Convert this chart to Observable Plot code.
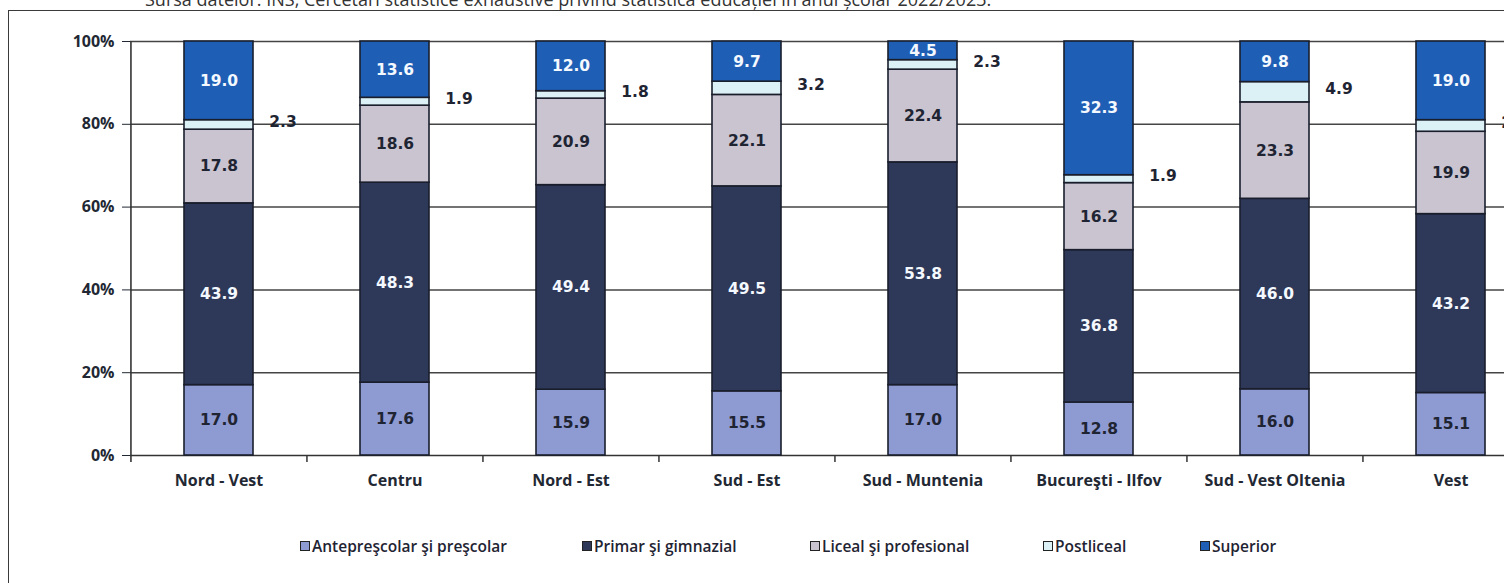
<!DOCTYPE html>
<html>
<head>
<meta charset="utf-8">
<script src="https://cdn.jsdelivr.net/npm/d3@7"></script>
<script src="https://cdn.jsdelivr.net/npm/@observablehq/plot@0.6"></script>
<style>
html,body{margin:0;padding:0;background:#fff;overflow:hidden;width:1504px;height:583px;}
#wrap{position:relative;width:1504px;height:583px;overflow:hidden;background:#fff;}
#frame{position:absolute;left:8px;top:10px;width:1700px;height:700px;border-left:1.5px solid #3a3a3a;border-top:1.5px solid #3a3a3a;}
#source{position:absolute;left:145px;top:-12px;font:18px "Open Sans";line-height:22px;color:#333;white-space:nowrap;}
#chart{position:absolute;left:0;top:0;}
#chart svg{max-width:none !important;}
#legend{position:absolute;top:536px;left:0;width:1504px;height:22px;font:600 15.5px "Open Sans";color:#1f2433;}
.item{position:absolute;top:0;display:flex;align-items:center;white-space:nowrap;line-height:20px;}
.sw{width:8px;height:8px;border:1.5px solid #222;margin-right:2px;}
</style>
</head>
<body>
<div id="wrap">
  <div id="frame"></div>
  <div id="source">Sursa datelor: INS, Cercetări statistice exhaustive privind statistica educației în anul școlar 2022/2023.</div>
  <div id="chart"></div>
  <div id="legend"></div>
</div>
<script>
const regions = ["Nord - Vest","Centru","Nord - Est","Sud - Est","Sud - Muntenia","Bucureşti - Ilfov","Sud - Vest Oltenia","Vest"];
const levels = ["Antepreşcolar şi preşcolar","Primar şi gimnazial","Liceal şi profesional","Postliceal","Superior"];
const anteprescolar = [17.0,17.6,15.9,15.5,17.0,12.8,16.0,15.1];
const primar       = [43.9,48.3,49.4,49.5,53.8,36.8,46.0,43.2];
const liceal       = [17.8,18.6,20.9,22.1,22.4,16.2,23.3,19.9];
const postliceal   = [2.3,1.9,1.8,3.2,2.3,1.9,4.9,2.8];
const superior     = [19.0,13.6,12.0,9.7,4.5,32.3,9.8,19.0];
const yTicks = [0,20,40,60,80,100];
const colors = ["#8e9ad2","#2e3858","#c9c4d0","#dcf1f5","#1e5fb5"];
const legendX = [300,582,810,1043,1200];

const series = [anteprescolar, primar, liceal, postliceal, superior];
const rows = regions.flatMap((r,i) => levels.map((l,j) => ({region:r, level:l, value:series[j][i]})));

const W = 1600, H = 512, ML = 130, MR = 61, MT = 41, MB = 57;
const step = (W - ML - MR) / regions.length;
const stackOpts = {x:"region", y:"value", z:"level", order: levels};
const darkLab = [levels[0], levels[2]];
const lightLab = [levels[1], levels[4]];
const labFont = {fontFamily:"DejaVu Sans", fontWeight:"bold", fontSize:15.5};

const chart = Plot.plot({
  width: W, height: H,
  marginLeft: ML, marginRight: MR, marginTop: MT, marginBottom: MB,
  style: {background:"transparent", maxWidth:"none", fontFamily:"Open Sans", fontSize:"16px", fontWeight:"bold", color:"#222833", overflow:"visible"},
  x: {domain: regions, paddingInner: 0.61, paddingOuter: 0.305, label: null, tickSize: 0, tickPadding: 19},
  y: {domain: [0,100], ticks: yTicks, tickFormat: d => d + "%", tickSize: 8, tickPadding: 8, label: null},
  color: {domain: levels, range: colors},
  marks: [
    Plot.ruleY(yTicks.slice(1), {stroke:"#444", strokeWidth:1.5}),
    Plot.ruleY([0], {stroke:"#333", strokeWidth:1.6}),
    Plot.ruleX(regions.slice(1), {x: d => d, dx: -step/2, y1: 0, y2: 0, insetBottom: -7, stroke:"#333", strokeWidth:1.5}),
    Plot.ruleX(regions.slice(0,1), {x: d => d, dx: -step/2, y1: 100, y2: 0, insetBottom: -7, stroke:"#333", strokeWidth:1.6}),
    Plot.barY(rows, Plot.stackY({...stackOpts, fill:"level", stroke:"#1a1e2c", strokeWidth:1.6})),
    Plot.text(rows, Plot.stackY({...stackOpts, text: d => darkLab.includes(d.level) ? d.value.toFixed(1) : "", fill:"#1f2433", ...labFont})),
    Plot.text(rows, Plot.stackY({...stackOpts, text: d => lightLab.includes(d.level) ? d.value.toFixed(1) : "", fill:"#f4f8ff", ...labFont})),
    Plot.text(rows, Plot.stackY({...stackOpts, text: d => d.level === levels[3] ? d.value.toFixed(1) : "", fill:"#1f2433", dx: 64, dy: -3, ...labFont}))
  ]
});
document.getElementById("chart").appendChild(chart);

const legend = document.getElementById("legend");
levels.forEach((l,j) => {
  const it = document.createElement("div");
  it.className = "item";
  it.style.left = legendX[j] + "px";
  const sw = document.createElement("span");
  sw.className = "sw";
  sw.style.background = colors[j];
  const tx = document.createElement("span");
  tx.textContent = l;
  it.appendChild(sw); it.appendChild(tx);
  legend.appendChild(it);
});
</script>
</body>
</html>
